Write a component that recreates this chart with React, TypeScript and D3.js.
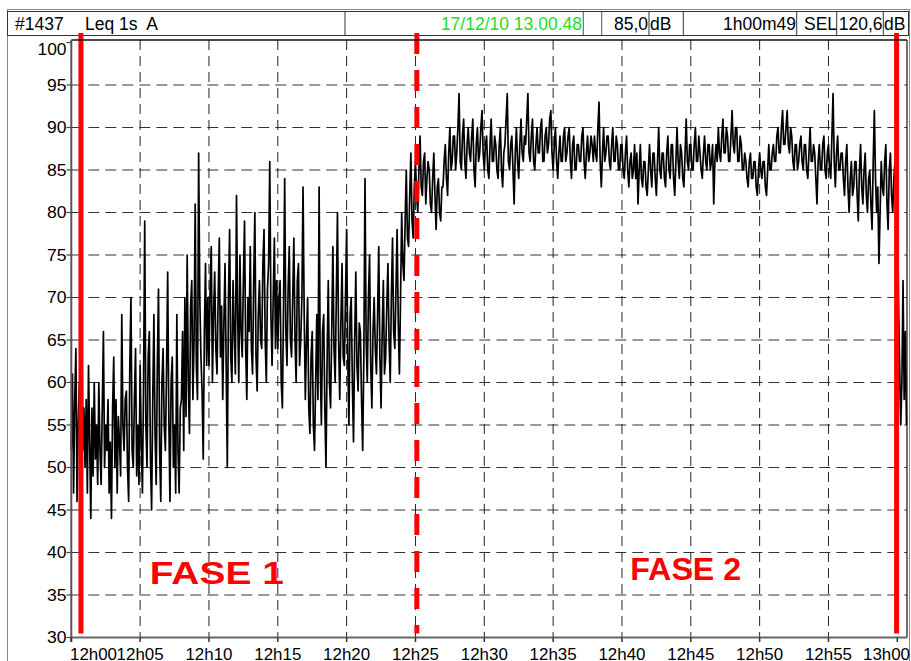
import * as d3 from "d3";

// Leq 1s A, read every 5 s from 12h00 (one row per minute)
const sampleStepSec = 5;
const leqDb = [
  52, 61, 47, 58, 64, 46, 55, 60, 49, 74, 52, 57,
  50, 58, 47, 62, 53, 44, 57, 49, 60, 51, 55, 48,
  60, 52, 48, 57, 66, 50, 55, 52, 58, 47, 53, 44,
  57, 63, 50, 58, 47, 56, 53, 49, 68, 55, 52, 58,
  59, 50, 46, 62, 70, 52, 50, 58, 64, 49, 55, 48,
  62, 53, 47, 60, 79, 55, 50, 63, 66, 51, 45, 58,
  68, 54, 48, 62, 71, 52, 46, 60, 64, 55, 52, 61,
  73, 56, 46, 60, 63, 50, 55, 47, 68, 52, 47, 57,
  58, 66, 52, 70, 56, 75, 60, 54, 69, 72, 58, 65,
  81, 62, 58, 87, 70, 63, 59, 51, 66, 74, 62, 70,
  62, 71, 76, 60, 68, 73, 64, 61, 70, 77, 63, 69,
  58, 67, 74, 62, 50, 70, 78, 63, 60, 72, 66, 61,
  82, 68, 60, 75, 66, 63, 72, 79, 64, 58, 70, 66,
  76, 64, 61, 72, 80, 63, 59, 68, 72, 65, 64, 74,
  78, 65, 60, 71, 74, 86, 68, 62, 70, 77, 64, 72,
  64, 70, 72, 60, 57, 69, 84, 66, 62, 71, 76, 65,
  63, 70, 77, 65, 60, 72, 74, 62, 65, 70, 83, 68,
  58, 65, 70, 57, 54, 63, 66, 55, 52, 60, 68, 58,
  83, 62, 55, 66, 68, 57, 50, 63, 72, 60, 57, 66,
  76, 64, 60, 70, 80, 65, 58, 67, 74, 63, 62, 70,
  78, 63, 55, 68, 70, 60, 53, 65, 73, 62, 59, 67,
  66, 58, 52, 63, 84, 65, 60, 70, 75, 62, 57, 66,
  70, 64, 61, 68, 76, 63, 57, 66, 72, 61, 63, 69,
  74, 65, 60, 70, 77, 66, 64, 71, 78, 67, 61, 70,
  80, 74, 72, 79, 85, 77, 76, 82, 87, 79, 77, 83,
  86, 82, 80, 85, 89, 83, 82, 86, 87, 81, 84, 86,
  85, 81, 80, 84, 87, 82, 78, 83, 84, 80, 79, 83,
  83, 86, 88, 84, 82, 87, 90, 85, 86, 89, 89, 85,
  87, 90, 94, 86, 85, 89, 91, 86, 84, 88, 90, 87,
  86, 89, 91, 85, 83, 88, 90, 86, 87, 90, 92, 87,
  85, 88, 89, 85, 84, 88, 91, 86, 86, 89, 88, 85,
  84, 88, 90, 85, 83, 87, 88, 91, 94, 86, 85, 88,
  89, 85, 81, 87, 90, 86, 84, 88, 91, 87, 86, 89,
  88, 91, 94, 87, 86, 89, 91, 86, 85, 88, 90, 87,
  87, 90, 91, 86, 86, 89, 90, 87, 88, 91, 92, 87,
  85, 88, 90, 86, 84, 87, 89, 86, 86, 89, 90, 86,
  87, 89, 90, 86, 84, 88, 89, 85, 85, 88, 88, 86,
  86, 89, 90, 86, 84, 87, 89, 86, 87, 89, 88, 86,
  89, 87, 86, 90, 93, 86, 83, 87, 90, 86, 87, 89,
  89, 86, 85, 88, 90, 86, 86, 89, 88, 85, 85, 88,
  88, 85, 84, 87, 89, 85, 83, 86, 87, 84, 85, 88,
  84, 87, 81, 85, 88, 84, 83, 86, 86, 83, 82, 85,
  88, 85, 83, 87, 87, 84, 82, 86, 90, 85, 84, 87,
  87, 84, 83, 87, 89, 85, 84, 88, 88, 84, 82, 86,
  90, 86, 84, 88, 87, 84, 83, 87, 91, 86, 85, 88,
  88, 85, 85, 88, 90, 86, 86, 89, 87, 85, 84, 87,
  89, 86, 85, 88, 88, 85, 86, 88, 81, 86, 88, 86,
  90, 87, 86, 89, 91, 87, 87, 90, 89, 86, 86, 89,
  92, 88, 87, 90, 90, 86, 86, 89, 88, 85, 85, 87,
  86, 84, 83, 86, 87, 84, 84, 86, 86, 83, 82, 85,
  87, 85, 84, 86, 86, 83, 82, 85, 88, 85, 85, 87,
  88, 86, 86, 89, 90, 87, 87, 90, 92, 88, 88, 90,
  92, 88, 87, 90, 89, 86, 85, 88, 88, 85, 86, 88,
  89, 86, 85, 88, 88, 85, 84, 87, 90, 86, 86, 88,
  87, 84, 81, 86, 88, 85, 85, 88, 89, 85, 84, 87,
  88, 85, 84, 89, 94, 86, 83, 87, 89, 85, 85, 87,
  87, 84, 82, 86, 88, 83, 80, 84, 86, 82, 83, 86,
  86, 82, 79, 85, 88, 83, 81, 85, 87, 82, 80, 84,
  85, 81, 78, 86, 92, 84, 80, 83, 74, 80, 86, 83,
  82, 86, 88, 81, 78, 85, 87, 82, 80, 84, 86, 83,
  84, 70, 62, 55, 60, 72, 58, 66, 55,
];

const xTickMinutes = [0, 5, 10, 15, 20, 25, 30, 35, 40, 45, 50, 55, 60];
const xTickLabels = ["12h00", "12h05", "12h10", "12h15", "12h20", "12h25", "12h30", "12h35", "12h40", "12h45", "12h50", "12h55", "13h00"];
const yTicks = [30, 35, 40, 45, 50, 55, 60, 65, 70, 75, 80, 85, 90, 95, 100];

// phase boundaries (minutes after 12h00)
const phaseMarks = [0.7, 25.1, 59.95];
const phaseDashed = [false, true, false];
const phaseLabels = ["FASE 1", "FASE 2"];
const phaseLabelMinutes = [5.7, 40.6];
const phaseLabelDb = [36.3, 36.8];

const headerId = "#1437";
const headerMeasure = "Leq 1s  A";
const headerDate = "17/12/10 13.00.48";
const headerLeq = "85,0";
const headerDuration = "1h00m49";
const headerSel = "120,6";

const W = 911;
const H = 661;
const font = "'Liberation Sans', Arial, sans-serif";

export default function App() {
  const plot = { left: 71.3, right: 907, top: 40, bottom: 637.5 };
  const x = d3.scaleLinear().domain([0, 60]).range([71.3, 897.3]);
  const y = d3.scaleLinear().domain([30, 100]).range([637.5, 42.5]);

  const pts = leqDb.map((v, i) => ({ m: (i * sampleStepSec) / 60, v }));
  const line = d3
    .line<{ m: number; v: number }>()
    .x((d) => x(d.m))
    .y((d) => y(d.v));

  const hdrY = 30;
  const boxStroke = "#333";

  return (
    <svg width={W} height={H} style={{ position: "absolute", left: 0, top: 0, background: "#fff" }} fontFamily={font}>
      {/* outer frame */}
      <rect x={7.5} y={9.5} width={902} height={700} fill="none" stroke="#888" />
      {/* header row */}
      <rect x={7.5} y={11.5} width={901} height={24} fill="none" stroke={boxStroke} />
      {[345, 583.3, 601.7, 649, 683.3, 796.7, 836.7, 883.3].map((sx) => (
        <line key={sx} x1={sx} x2={sx} y1={11.5} y2={35.5} stroke={boxStroke} />
      ))}
      <rect x={583.8} y={12} width={17.4} height={23} fill="#fff" />
      <text x={15} y={hdrY} fontSize={17.5} fill="#000">{headerId}</text>
      <text x={85} y={hdrY} fontSize={17.5} fill="#000" style={{ whiteSpace: "pre" }}>{headerMeasure}</text>
      <text x={582} y={hdrY} fontSize={17.5} fill="#22dd22" textAnchor="end">{headerDate}</text>
      <text x={648} y={hdrY} fontSize={17.5} fill="#000" textAnchor="end">{headerLeq}</text>
      <text x={650} y={hdrY} fontSize={17.5} fill="#000">dB</text>
      <text x={796} y={hdrY} fontSize={17.5} fill="#000" textAnchor="end">{headerDuration}</text>
      <text x={804} y={hdrY} fontSize={17.5} fill="#000">SEL</text>
      <text x={882.5} y={hdrY} fontSize={17.5} fill="#000" textAnchor="end">{headerSel}</text>
      <text x={884} y={hdrY} fontSize={17.5} fill="#000">dB</text>

      {/* grid */}
      {yTicks.filter((t) => t > 30 && t < 100).map((t) => (
        <line key={"gy" + t} x1={plot.left} x2={plot.right} y1={y(t)} y2={y(t)} stroke="#333" strokeDasharray="11,6" />
      ))}
      {xTickMinutes.filter((m) => m > 0 && m < 60).map((m) => (
        <line key={"gx" + m} x1={x(m)} x2={x(m)} y1={plot.top} y2={plot.bottom} stroke="#222" strokeDasharray="10,6" />
      ))}

      {/* signal */}
      <path d={line(pts) ?? ""} fill="none" stroke="#000" strokeWidth={1.7} strokeLinejoin="round" />

      {/* phase markers */}
      {phaseMarks.map((m, i) => (
        <line
          key={"ph" + i}
          x1={x(m)}
          x2={x(m)}
          y1={33}
          y2={633.5}
          stroke="#ff0000"
          strokeWidth={5}
          strokeDasharray={phaseDashed[i] ? "21,16" : undefined}
        />
      ))}
      {phaseLabels.map((lab, i) => (
        <text
          key={lab}
          x={x(phaseLabelMinutes[i])}
          y={y(phaseLabelDb[i])}
          fontSize={31}
          fontWeight="bold"
          fill="#ff0000"
          textLength={i === 0 ? 134 : 111}
          lengthAdjust="spacingAndGlyphs"
        >
          {lab}
        </text>
      ))}

      {/* frame */}
      <line x1={plot.left} x2={plot.right} y1={plot.top} y2={plot.top} stroke="#111" strokeWidth={1.5} />
      <line x1={plot.right} x2={plot.right} y1={plot.top} y2={plot.bottom} stroke="#111" strokeWidth={1.2} />
      <line x1={plot.left} x2={plot.left} y1={plot.top} y2={642} stroke="#555" strokeWidth={2} />
      <line x1={plot.left} x2={plot.right} y1={plot.bottom} y2={plot.bottom} stroke="#666" strokeWidth={2} />

      {/* y axis */}
      {yTicks.map((t) => (
        <g key={"yt" + t}>
          <line x1={66.5} x2={plot.left} y1={y(t)} y2={y(t)} stroke="#444" strokeWidth={1.2} />
          <text
            x={66.5}
            y={t === 100 ? 55 : y(t) + 5.5}
            fontSize={16}
            textAnchor="end"
            fill="#000"
            textLength={t === 100 ? 29 : 19.5}
            lengthAdjust="spacingAndGlyphs"
          >
            {t}
          </text>
        </g>
      ))}

      {/* x axis */}
      {xTickMinutes.map((m, i) => {
        const tx = x(m);
        const first = i === 0;
        const last = i === xTickMinutes.length - 1;
        return (
          <g key={"xt" + m}>
            <line x1={tx} x2={tx} y1={plot.bottom} y2={642} stroke="#333" strokeWidth={1.5} />
            <text
              x={first ? 70 : last ? 910 : tx}
              y={659.5}
              fontSize={16.5}
              textAnchor={first ? "start" : last ? "end" : "middle"}
              fill="#000"
              textLength={47}
              lengthAdjust="spacingAndGlyphs"
            >
              {xTickLabels[i]}
            </text>
          </g>
        );
      })}
    </svg>
  );
}
